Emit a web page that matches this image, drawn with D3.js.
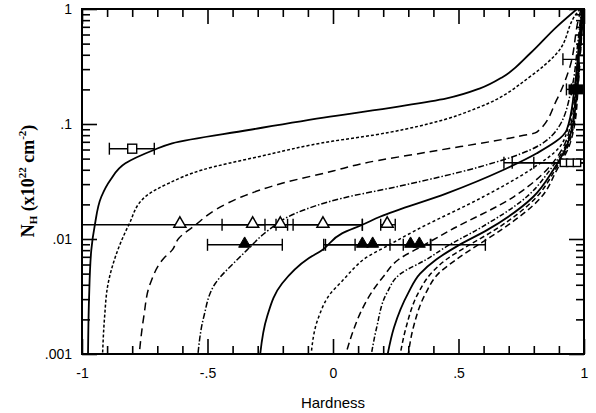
<!DOCTYPE html>
<html>
<head>
<meta charset="utf-8">
<script src="https://d3js.org/d3.v7.min.js"></script>
<style>
    body { margin: 0; background: #fff; }
    text { font-family: "Liberation Sans", Arial, sans-serif; fill: #000; }
    .ytitle { font-family: "Liberation Serif", "Times New Roman", serif; font-weight: bold; }
</style>
</head>
<body>
<div id="chart"></div>
<script>
// model curves, [hardness, N_H] (N_H ascending)
var curve1 = [[-0.976,0.001],[-0.972,0.003],[-0.963,0.008],[-0.949,0.0132],[-0.923,0.0233],[-0.887,0.0326],[-0.827,0.0455],[-0.714,0.0594],[-0.641,0.068],[-0.336,0.0887],[-0.012,0.116],[0.254,0.141],[0.453,0.167],[0.586,0.204],[0.678,0.258],[0.785,0.41],[0.891,0.70],[0.972,1.0]];
var curve2 = [[-0.918,0.001],[-0.91,0.0021],[-0.896,0.0041],[-0.867,0.007],[-0.814,0.0132],[-0.748,0.0233],[-0.655,0.0305],[-0.522,0.0398],[-0.296,0.052],[0.0,0.071],[0.161,0.080],[0.386,0.101],[0.586,0.141],[0.785,0.258],[0.891,0.41],[0.971,0.918],[0.985,1.0]];
var curve3 = [[-0.772,0.001],[-0.754,0.0021],[-0.728,0.0041],[-0.674,0.0068],[-0.641,0.008],[-0.615,0.0101],[-0.549,0.0132],[-0.469,0.0179],[-0.363,0.0233],[-0.203,0.0305],[0.0,0.039],[0.121,0.0455],[0.386,0.0574],[0.732,0.0776],[0.812,0.085],[0.891,0.162],[0.944,0.315],[0.977,0.80],[0.988,1.0]];
var curve4 = [[-0.538,0.001],[-0.515,0.0021],[-0.469,0.0041],[-0.376,0.0068],[-0.343,0.008],[-0.256,0.012],[-0.15,0.0167],[0.036,0.0226],[0.254,0.0285],[0.586,0.0425],[0.785,0.0594],[0.891,0.0887],[0.95,0.2],[0.975,0.5],[0.99,1.0]];
var curve5 = [[-0.29,0.001],[-0.263,0.0021],[-0.203,0.0041],[-0.097,0.0068],[-0.044,0.008],[0.036,0.0112],[0.117,0.0133],[0.187,0.0156],[0.453,0.0249],[0.678,0.0398],[0.812,0.0556],[0.931,0.0887],[0.962,0.2],[0.98,0.5],[0.992,1.0]];
var curve6 = [[-0.087,0.001],[-0.057,0.0021],[-0.008,0.0034],[0.036,0.0043],[0.088,0.0057],[0.12,0.0066],[0.22,0.0088],[0.333,0.012],[0.599,0.0233],[0.785,0.0398],[0.904,0.0635],[0.94,0.1],[0.962,0.2],[0.98,0.45],[0.993,1.0]];
var curve7 = [[0.051,0.001],[0.081,0.0016],[0.114,0.0024],[0.16,0.0036],[0.2,0.0047],[0.26,0.0066],[0.36,0.0088],[0.47,0.012],[0.72,0.0233],[0.838,0.0373],[0.918,0.0635],[0.948,0.1],[0.966,0.2],[0.982,0.45],[0.994,1.0]];
var curve8 = [[0.153,0.001],[0.174,0.0017],[0.215,0.0034],[0.27,0.005],[0.37,0.0066],[0.46,0.0088],[0.573,0.012],[0.772,0.0233],[0.865,0.04],[0.925,0.0635],[0.952,0.1],[0.969,0.2],[0.983,0.45],[0.995,1.0]];
var curve9 = [[0.218,0.001],[0.243,0.0017],[0.30,0.0034],[0.347,0.005],[0.41,0.0066],[0.50,0.0088],[0.615,0.012],[0.798,0.0233],[0.878,0.04],[0.93,0.0635],[0.956,0.1],[0.972,0.2],[0.985,0.45],[0.996,1.0]];
var curve10 = [[0.268,0.001],[0.291,0.0017],[0.34,0.0034],[0.39,0.005],[0.45,0.0066],[0.54,0.0088],[0.645,0.012],[0.812,0.0233],[0.885,0.04],[0.935,0.0635],[0.96,0.1],[0.974,0.2],[0.986,0.45],[0.997,1.0]];
var curve11 = [[0.30,0.001],[0.32,0.0017],[0.37,0.0034],[0.42,0.005],[0.49,0.0066],[0.575,0.0088],[0.67,0.012],[0.831,0.0233],[0.892,0.04],[0.94,0.0635],[0.963,0.1],[0.976,0.2],[0.987,0.45],[0.998,1.0]];

// observed sources: hardness, error bar low / high, N_H
var openTriH  = [-0.61, -0.32, -0.21, -0.04, 0.216];
var openTriLo = [-1.05, -0.442, -0.227, -0.159, 0.19];
var openTriHi = [0.117, -0.271, -0.181, 0.117, 0.248];
var openTriNH = 0.0133;

var fillTriH  = [-0.352, 0.117, 0.158, 0.309, 0.344];
var fillTriLo = [-0.50, -0.037, 0.088, -0.03, 0.28];
var fillTriHi = [-0.202, 0.227, 0.388, 0.607, 0.39];
var fillTriNH = 0.0089;

var openSqH  = [-0.80, 0.92, 0.945, 0.972, 0.995];
var openSqLo = [-0.891, 0.681, 0.714, 0.80, 0.916];
var openSqHi = [-0.712, 1.05, 1.05, 1.05, 1.05];
var openSqNH = [0.061, 0.046, 0.046, 0.046, 0.365];

var fillSqH  = [0.958, 0.976];
var fillSqLo = [0.93, 0.95];
var fillSqHi = [1.05, 1.05];
var fillSqNH = [0.2, 0.2];

var xMajor = [-1, -0.5, 0, 0.5, 1];
var yMajor = [0.001, 0.01, 0.1, 1];

var width = 596, height = 413;
var pL = 82, pR = 584, pT = 9, pB = 354;

var svg = d3.select('#chart').append('svg')
    .attr('width', width).attr('height', height);

var x = d3.scaleLinear().domain([-1, 1]).range([pL, pR]);
var y = d3.scaleLog().domain([0.001, 1]).range([pB, pT]);

svg.append('clipPath').attr('id', 'plot')
    .append('rect').attr('x', pL).attr('y', pT)
    .attr('width', pR - pL).attr('height', pB - pT);

var xMinor = d3.range(-10, 11).map(function (i) { return i / 10; })
    .filter(function (v) { return xMajor.indexOf(v) < 0; });
var yMinor = y.ticks().filter(function (v) {
    return yMajor.every(function (m) { return Math.abs(v - m) > m * 1e-6; });
});

function xfmt(d) { return d === 0 ? '0' : String(d).replace('0.', '.'); }
function yfmt(d) { return d >= 1 ? '1' : String(d).replace('0.', '.'); }

function styleAxis(g) {
    g.select('.domain').remove();
    g.selectAll('line').attr('stroke', '#000').attr('stroke-width', 1.6);
    g.selectAll('text').attr('font-size', 14).attr('font-family', '"Liberation Sans", Arial, sans-serif');
}

// bottom / top
svg.append('g').attr('transform', 'translate(0,' + pB + ')')
    .call(d3.axisBottom(x).tickValues(xMajor).tickSize(-15).tickPadding(14).tickFormat(xfmt))
    .call(styleAxis);
svg.append('g').attr('transform', 'translate(0,' + pB + ')')
    .call(d3.axisBottom(x).tickValues(xMinor).tickSize(-8).tickFormat(''))
    .call(styleAxis);
svg.append('g').attr('transform', 'translate(0,' + pT + ')')
    .call(d3.axisTop(x).tickValues(xMajor).tickSize(-15).tickFormat(''))
    .call(styleAxis);
svg.append('g').attr('transform', 'translate(0,' + pT + ')')
    .call(d3.axisTop(x).tickValues(xMinor).tickSize(-8).tickFormat(''))
    .call(styleAxis);

// left / right
svg.append('g').attr('transform', 'translate(' + pL + ',0)')
    .call(d3.axisLeft(y).tickValues(yMajor).tickSize(-15).tickPadding(10).tickFormat(yfmt))
    .call(styleAxis);
svg.append('g').attr('transform', 'translate(' + pL + ',0)')
    .call(d3.axisLeft(y).tickValues(yMinor).tickSize(-8).tickFormat(''))
    .call(styleAxis);
svg.append('g').attr('transform', 'translate(' + pR + ',0)')
    .call(d3.axisRight(y).tickValues(yMajor).tickSize(-15).tickFormat(''))
    .call(styleAxis);
svg.append('g').attr('transform', 'translate(' + pR + ',0)')
    .call(d3.axisRight(y).tickValues(yMinor).tickSize(-8).tickFormat(''))
    .call(styleAxis);

// curves
var curves = [curve1, curve2, curve3, curve4, curve5, curve6, curve7, curve8, curve9, curve10, curve11];
var dashes = [null, '3,2', '8,5', '6,2,1.5,2', null, '3,2.5', '7,4', '5,2,1.5,2', null, '5,3', '6,3.5'];

var line = d3.line()
    .x(function (d) { return x(d[0]); })
    .y(function (d) { return y(d[1]); })
    .curve(d3.curveMonotoneY);

var plot = svg.append('g').attr('clip-path', 'url(#plot)');

plot.selectAll('path.model')
    .data(curves)
    .enter()
    .append('path')
    .attr('class', 'model')
    .attr('d', function (d) { return line(d.slice().reverse()); })
    .attr('fill', 'none')
    .attr('stroke', '#000')
    .attr('stroke-width', function (d, i) { return dashes[i] ? 1.5 : 1.8; })
    .attr('stroke-dasharray', function (d, i) { return dashes[i]; });

// error bars
function errorBars(hs, los, his, nhs) {
    var rows = hs.map(function (h, i) {
        return { h: h, lo: los[i], hi: his[i], nh: Array.isArray(nhs) ? nhs[i] : nhs };
    });
    var g = plot.append('g').attr('stroke', '#000').attr('stroke-width', 1.4);
    rows.forEach(function (r) {
        var yy = y(r.nh);
        g.append('line').attr('x1', x(r.lo)).attr('x2', x(r.hi)).attr('y1', yy).attr('y2', yy);
        [r.lo, r.hi].forEach(function (v) {
            g.append('line').attr('x1', x(v)).attr('x2', x(v)).attr('y1', yy - 6).attr('y2', yy + 6);
        });
    });
    return rows;
}

var tri = d3.symbol().type(d3.symbolTriangle).size(62);

var rowsOT = errorBars(openTriH, openTriLo, openTriHi, openTriNH);
var rowsFT = errorBars(fillTriH, fillTriLo, fillTriHi, fillTriNH);
var rowsOS = errorBars(openSqH, openSqLo, openSqHi, openSqNH);
var rowsFS = errorBars(fillSqH, fillSqLo, fillSqHi, fillSqNH);

plot.selectAll('path.otri').data(rowsOT).enter().append('path')
    .attr('class', 'otri')
    .attr('transform', function (d) { return 'translate(' + x(d.h) + ',' + (y(d.nh) - 1) + ')'; })
    .attr('d', tri).attr('fill', '#fff').attr('stroke', '#000').attr('stroke-width', 1.5);

plot.selectAll('path.ftri').data(rowsFT).enter().append('path')
    .attr('class', 'ftri')
    .attr('transform', function (d) { return 'translate(' + x(d.h) + ',' + (y(d.nh) - 1) + ')'; })
    .attr('d', tri).attr('fill', '#000').attr('stroke', '#000').attr('stroke-width', 1);

plot.selectAll('rect.osq').data(rowsOS).enter().append('rect')
    .attr('class', 'osq')
    .attr('x', function (d, i) { return x(d.h) - (i === 0 ? 4.5 : 3.7); })
    .attr('y', function (d, i) { return y(d.nh) - (i === 0 ? 4.5 : 3.7); })
    .attr('width', function (d, i) { return i === 0 ? 9 : 7.4; })
    .attr('height', function (d, i) { return i === 0 ? 9 : 7.4; })
    .attr('fill', '#fff').attr('stroke', '#000').attr('stroke-width', 1.4);

plot.selectAll('rect.fsq').data(rowsFS).enter().append('rect')
    .attr('class', 'fsq')
    .attr('x', function (d) { return x(d.h) - 5; })
    .attr('y', function (d) { return y(d.nh) - 5; })
    .attr('width', 10).attr('height', 10)
    .attr('fill', '#000');

// frame
svg.append('rect')
    .attr('x', pL).attr('y', pT)
    .attr('width', pR - pL).attr('height', pB - pT)
    .attr('fill', 'none').attr('stroke', '#000').attr('stroke-width', 2);

// titles
svg.append('text')
    .attr('x', (pL + pR) / 2).attr('y', 408)
    .attr('text-anchor', 'middle').attr('font-size', 15)
    .text('Hardness');

var yt = svg.append('text')
    .attr('class', 'ytitle')
    .attr('transform', 'translate(34,181) rotate(-90)')
    .attr('text-anchor', 'middle').attr('font-size', 18);
yt.append('tspan').text('N');
yt.append('tspan').attr('font-size', 11).attr('dy', 3).text('H');
yt.append('tspan').attr('dy', -3).text(' (x10');
yt.append('tspan').attr('font-size', 11).attr('dy', -8).text('22');
yt.append('tspan').attr('dy', 8).text(' cm');
yt.append('tspan').attr('font-size', 11).attr('dy', -8).text('-2');
yt.append('tspan').attr('dy', 8).text(')');
</script>
</body>
</html>
